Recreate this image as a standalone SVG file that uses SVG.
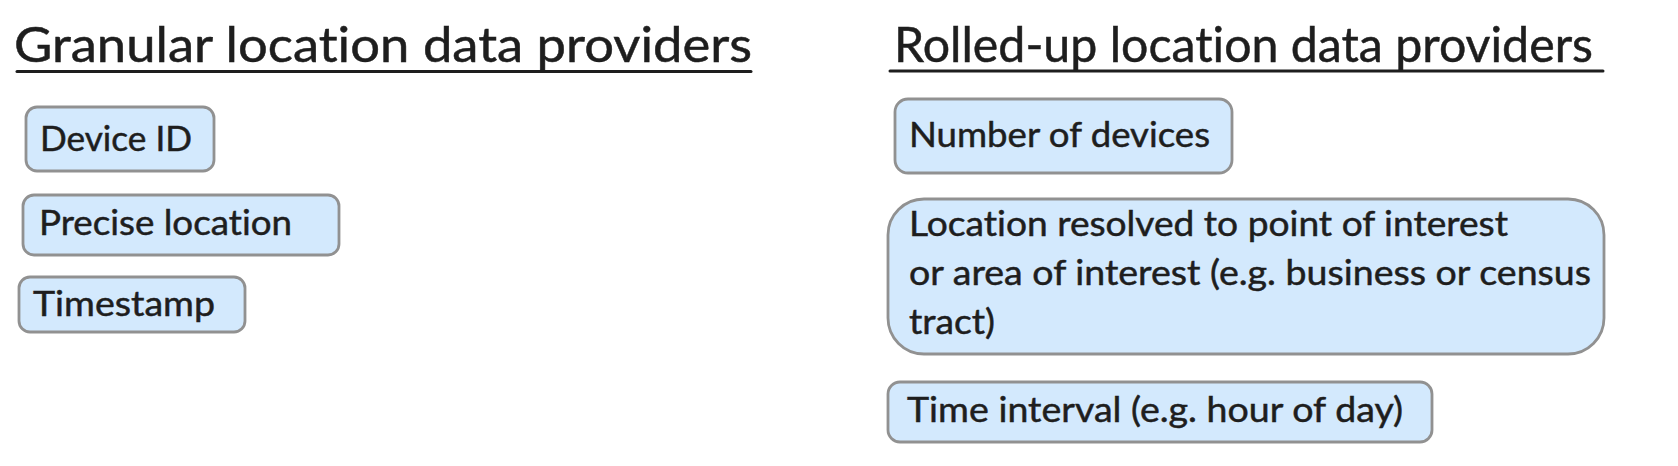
<svg xmlns="http://www.w3.org/2000/svg" width="1678" height="466" viewBox="0 0 1678 466">
<style>
.bg{fill:#ffffff}
.box{fill:#d3e9fd;stroke:#919191;stroke-width:2.8}
.t,.h{font-family:"Lato","Noto Sans","Liberation Sans",sans-serif;fill:#1e1e1e;stroke:#1e1e1e;stroke-width:0.5;font-variant-ligatures:none;font-feature-settings:"liga" 0,"clig" 0}
.t{font-size:35px}
.h{font-size:49px}
.ul{stroke:#1e1e1e;stroke-width:3;stroke-linecap:round;fill:none}
</style>
<rect class="bg" x="0" y="0" width="1678" height="466"/>
<g id="granular-title">
<text class="h" x="14" y="62" textLength="738" lengthAdjust="spacingAndGlyphs">Granular location data providers</text>
<path class="ul" d="M17 71.5 L751 71.5"/>
</g>
<g id="device-id">
<rect class="box" x="26" y="107" width="188" height="64" rx="11"/>
<text class="t" x="40" y="151" textLength="152" lengthAdjust="spacingAndGlyphs">Device ID</text>
</g>
<g id="precise-location">
<rect class="box" x="23" y="195" width="316" height="60" rx="11"/>
<text class="t" x="39" y="235" textLength="253" lengthAdjust="spacingAndGlyphs">Precise location</text>
</g>
<g id="timestamp">
<rect class="box" x="19" y="277" width="226" height="55" rx="11"/>
<text class="t" x="33" y="316" textLength="182" lengthAdjust="spacingAndGlyphs">Timestamp</text>
</g>
<g id="rolled-title">
<text class="h" x="894" y="62" textLength="699" lengthAdjust="spacingAndGlyphs">Rolled-up location data providers</text>
<path class="ul" d="M890 71 L1603 71"/>
</g>
<g id="number-of-devices">
<rect class="box" x="895" y="99" width="337" height="74" rx="13"/>
<text class="t" x="909" y="147" textLength="301" lengthAdjust="spacingAndGlyphs">Number of devices</text>
</g>
<g id="location-resolved">
<rect class="box" x="888" y="199" width="716" height="155" rx="36"/>
<text class="t" x="909" y="236" textLength="599" lengthAdjust="spacingAndGlyphs">Location resolved to point of interest</text>
<text class="t" x="909" y="285" textLength="682" lengthAdjust="spacingAndGlyphs">or area of interest (e.g. business or census</text>
<text class="t" x="909" y="334" textLength="86" lengthAdjust="spacingAndGlyphs">tract)</text>
</g>
<g id="time-interval">
<rect class="box" x="888" y="382" width="544" height="60" rx="12"/>
<text class="t" x="907" y="422" textLength="496" lengthAdjust="spacingAndGlyphs">Time interval (e.g. hour of day)</text>
</g>
<g id="connectors"></g>
</svg>
